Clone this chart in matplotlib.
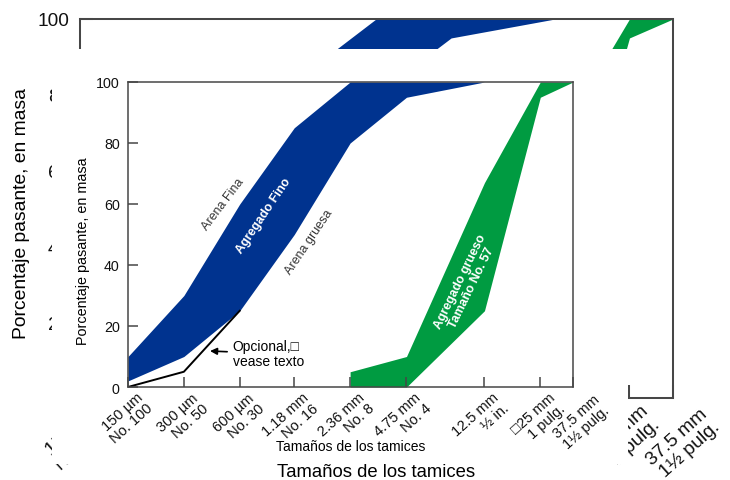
import matplotlib.pyplot as plt
from matplotlib.patches import Rectangle
from matplotlib.transforms import ScaledTranslation

plt.rcParams['font.family'] = ['Liberation Sans', 'DejaVu Sans']

# tamices (mm) y etiquetas
sieve_mm = [0.15, 0.3, 0.6, 1.18, 2.36, 4.75, 12.5, 25, 37.5]
sieve_labels = ['150 µm\nNo. 100', '300 µm\nNo. 50', '600 µm\nNo. 30',
                '1.18 mm\nNo. 16', '2.36 mm\nNo. 8', '4.75 mm\nNo. 4',
                '12.5 mm\n½ in.', '□25 mm\n1 pulg.', '37.5 mm\n1½ pulg.']
y_ticks = [0, 20, 40, 60, 80, 100]

# agregado fino
fine_sizes = [0.15, 0.3, 0.6, 1.18, 2.36, 4.75, 12.5]
fine_low = [2, 10, 25, 50, 80, 95, 100]
fine_high = [10, 30, 60, 85, 100, 100, 100]

# agregado grueso No. 57
coarse_sizes = [2.36, 4.75, 12.5, 25, 37.5]
coarse_low = [0, 0, 25, 95, 100]
coarse_high = [5, 10, 67, 100, 100]

# curva opcional
optional_sizes = [0.15, 0.3, 0.6]
optional_pass = [0, 5, 25]

BLUE = '#00338f'
GREEN = '#009b41'
EDGE = '#474747'

fig = plt.figure(figsize=(7.3, 4.81), dpi=100)


def draw_chart(ax, s, ylab_y):
    # s = factor de escala (1 = grafico chico, 1.33 = grafico de fondo)
    ax.fill_between(fine_sizes, fine_low, fine_high, color=BLUE, lw=0)
    ax.fill_between(coarse_sizes, coarse_low, coarse_high, color=GREEN, lw=0)
    ax.plot(optional_sizes, optional_pass, color='k', lw=1.4 * s)
    ax.set_xscale('log')
    ax.set_xlim(sieve_mm[0], sieve_mm[-1])
    ax.set_ylim(0, 100)
    ax.set_xticks(sieve_mm)
    ax.set_xticks([], minor=True)
    ax.set_xticklabels([])
    ax.set_yticks(y_ticks)
    ax.tick_params(direction='in', length=7 * s, width=1.1 * s, color=EDGE,
                   labelsize=10.3 * s, pad=6 * s, labelcolor='#111111')
    for sp in ax.spines.values():
        sp.set_color(EDGE)
        sp.set_linewidth(1.1 * s)
    n = len(sieve_mm)
    for i, (x, lab) in enumerate(zip(sieve_mm, sieve_labels)):
        dx = 8 if i < n - 1 else 20
        dy = -3 if i < n - 1 else -5
        off = ScaledTranslation(dx * s / 100, dy * s / 100, fig.dpi_scale_trans)
        ax.text(x, 0, lab, transform=ax.get_xaxis_transform() + off,
                rotation=42, rotation_mode='anchor', ha='right', va='top',
                fontsize=10.5 * s, color='#111111', linespacing=1.05)
    ax.set_xlabel('Tamaños de los tamices', fontsize=10 * s)
    ax.xaxis.set_label_coords(0.5, -0.172)
    ax.set_ylabel('Porcentaje pasante, en masa', fontsize=10.4 * s)
    ax.yaxis.set_label_coords(-0.085, ylab_y)


# grafico de fondo (ampliado)
ax_bg = fig.add_axes([80 / 730, 1 - 399 / 481, 593 / 730, 379 / 481])
ax_bg.set_zorder(0)
draw_chart(ax_bg, 1.33, 0.49)

# recuadro blanco que tapa el fondo
cover = Rectangle((52 / 730, 1 - 465 / 481), 576 / 730, 415 / 481,
                  transform=fig.transFigure, facecolor='white',
                  edgecolor='none', zorder=1)
fig.add_artist(cover)

# grafico principal
ax = fig.add_axes([128 / 730, 1 - 388 / 481, 445 / 730, 305 / 481])
ax.set_zorder(2)
draw_chart(ax, 1.0, 0.45)

ax.text(0.487, 60, 'Arena Fina', rotation=53, ha='center', va='center',
        fontsize=9, color='#333333')
ax.text(0.81, 56.4, 'Agregado Fino', rotation=56, ha='center', va='center',
        fontsize=9, color='white', fontweight='bold')
ax.text(1.42, 47.9, 'Arena gruesa', rotation=56, ha='center', va='center',
        fontsize=9, color='#333333')
ax.text(9.9, 33.8, 'Agregado grueso\nTamaño No. 57', rotation=64,
        ha='center', va='center', fontsize=9, color='white',
        fontweight='bold', linespacing=1.1)
ax.annotate('Opcional,□\nvease texto', xy=(0.415, 11.8), xytext=(0.55, 11),
            ha='left', va='center', fontsize=10, linespacing=1.05,
            arrowprops=dict(arrowstyle='-|>', color='k', lw=1.2,
                            shrinkA=2, shrinkB=0, mutation_scale=10))

fig.savefig('out.png', dpi=100)
